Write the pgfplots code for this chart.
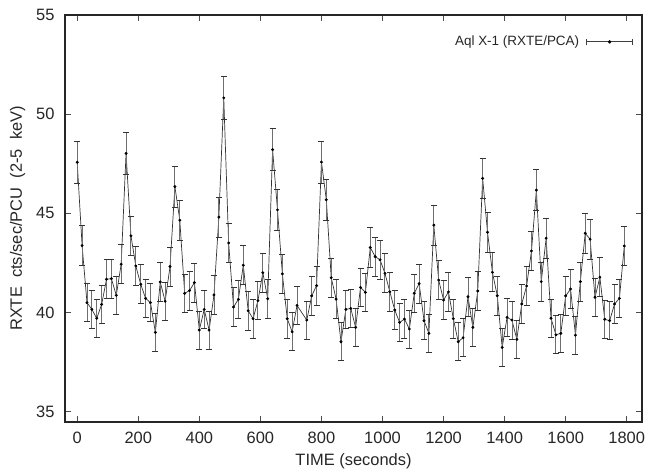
\documentclass[border=0pt]{standalone}
\usepackage{pgfplots}
\pgfplotsset{compat=1.18}
\usepackage{pgfplotstable}
\usepackage{fontspec}
\setmainfont{Liberation Sans}
\definecolor{barg}{RGB}{110,110,110}
\pgfplotstableread{
t c e
0 47.57 1.05
16 43.37 1.0
32 40.49 0.97
48 40.15 0.97
64 39.70 0.97
80 40.40 0.97
96 41.67 0.98
112 41.70 0.98
128 40.86 0.97
144 42.43 0.98
160 48.02 1.05
176 43.86 1.0
192 42.34 0.98
208 41.42 0.98
224 40.71 0.97
240 40.49 0.97
256 38.99 0.96
272 41.53 0.98
288 40.56 0.97
304 42.31 0.98
320 46.34 1.03
336 44.65 1.01
352 40.96 0.97
368 41.10 0.98
384 41.50 0.98
400 39.11 0.96
416 40.15 0.97
432 39.11 0.96
448 40.88 0.97
464 44.80 1.01
480 50.82 1.07
496 43.50 1.0
512 40.27 0.97
528 40.66 0.97
544 42.38 0.98
560 40.08 0.97
576 39.68 0.97
592 40.59 0.97
608 42.00 0.98
624 40.69 0.97
640 48.21 1.05
656 45.17 1.02
672 41.94 0.98
688 39.68 0.97
704 39.02 0.96
720 40.35 0.97
752 39.61 0.96
768 40.83 0.97
784 41.35 0.98
800 47.58 1.05
816 45.68 1.02
832 41.75 0.98
848 40.67 0.97
864 38.52 0.96
880 40.15 0.97
896 40.20 0.97
912 39.24 0.96
928 41.26 0.98
944 41.01 0.98
960 43.27 1.0
976 42.81 0.99
992 42.65 0.99
1008 41.97 0.98
1024 41.04 0.98
1040 40.12 0.97
1056 39.49 0.96
1072 39.66 0.97
1088 39.16 0.96
1104 40.96 0.97
1120 41.45 0.98
1136 39.58 0.96
1152 38.94 0.96
1168 44.40 1.01
1184 41.63 0.98
1200 40.62 0.97
1216 41.03 0.98
1232 39.68 0.97
1248 38.52 0.96
1264 38.72 0.96
1280 40.79 0.97
1296 39.24 0.96
1312 41.08 0.98
1328 46.76 1.03
1344 44.04 1.0
1360 42.02 0.98
1376 40.84 0.97
1392 38.23 0.96
1408 39.75 0.97
1424 39.61 0.96
1440 38.64 0.96
1456 40.42 0.97
1472 41.33 0.98
1488 43.10 0.99
1504 46.17 1.03
1520 41.55 0.98
1536 43.74 1.0
1552 39.70 0.97
1568 38.87 0.96
1584 38.94 0.96
1600 40.83 0.97
1616 41.18 0.98
1632 38.85 0.96
1648 41.55 0.98
1664 43.99 1.0
1680 43.69 1.0
1696 40.76 0.97
1712 41.77 0.98
1728 39.65 0.97
1744 39.58 0.96
1760 40.42 0.97
1776 40.71 0.97
1792 43.35 1.0
}\datatab
\begin{document}
\begin{tikzpicture}
\begin{axis}[
  scale only axis,
  width=577bp, height=407bp,
  xmin=-40, xmax=1850, ymin=34.47, ymax=55,
  xtick={0,200,...,1800}, ytick={35,40,45,50,55},
  tick align=inside, major tick length=6bp,
  axis line style={line width=1.1bp, black!85},
  tick style={line width=0.8bp, black!70},
  /pgf/number format/assume math mode=true,
  /pgf/number format/1000 sep={},
  ticklabel style={font=\fontsize{16.5}{19}\selectfont, text=black!85},
  xticklabel style={yshift=-7bp},
  yticklabel style={xshift=-7bp},
  label style={font=\fontsize{16.5}{19}\selectfont, text=black!85},
  xlabel={TIME (seconds)},
  ylabel={RXTE\ \ cts/sec/PCU\ \ (2-5\ \ keV)},
  xlabel style={yshift=-3bp},
  ylabel style={yshift=4bp},
  legend style={at={(0.99,0.934)}, anchor=east, draw=none, fill=none,
    font=\fontsize{13.5}{16}\selectfont, text=black!85,
    /tikz/every odd column/.append style={column sep=5bp}},
  legend plot pos=right,
  legend cell align=right,
]
\addplot[forget plot, black!80, line width=0.7bp, mark=*, mark size=1.1bp,
  mark options={black},
  error bars/.cd, y dir=both, y explicit,
  error bar style={barg, line width=0.9bp},
  error mark options={rotate=90, mark size=3bp, black!80, line width=0.8bp}]
  table[x=t, y=c, y error=e]{\datatab};
\addlegendimage{black!75, line width=0.9bp,
  legend image code/.code={
  \draw[black!75, line width=0.9bp] (0bp,0bp) -- (46bp,0bp);
  \draw[black!75, line width=0.9bp] (0bp,-3bp) -- (0bp,3bp);
  \draw[black!75, line width=0.9bp] (46bp,-3bp) -- (46bp,3bp);
  \fill[black] (23bp,0bp) circle (1.2bp);
}}
\addlegendentry{Aql X-1 (RXTE/PCA)}
\end{axis}
\path ([xshift=18bp,yshift=15bp]current axis.north east);
\path ([xshift=-65bp,yshift=-48bp]current axis.south west);
\end{tikzpicture}
\end{document}
